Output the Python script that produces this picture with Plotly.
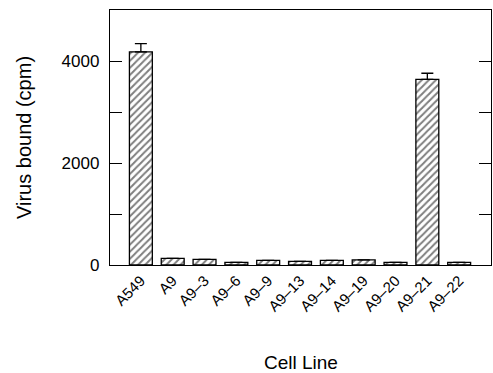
import plotly.graph_objects as go

cell_lines = ["A549", "A9", "A9-3", "A9-6", "A9-9", "A9-13", "A9-14", "A9-19", "A9-20", "A9-21", "A9-22"]
tick_labels = ["A549", "A9", "A9\u20133", "A9\u20136", "A9\u20139", "A9\u201313", "A9\u201314", "A9\u201319", "A9\u201320", "A9\u201321", "A9\u201322"]
virus_bound = [4180, 130, 110, 50, 90, 70, 90, 100, 50, 3640, 50]
errors = [160, 0, 0, 0, 0, 0, 0, 0, 0, 120, 0]
y_tickvals = [0, 1000, 2000, 3000, 4000]
y_ticktext = ["0", "", "2000", "", "4000"]

font = "Liberation Sans, Arial, sans-serif"

L, R, T, B = 110, 2, 10, 108
W, H = 493, 373
pw = W - L - R
ph = H - T - B

fig = go.Figure()
fig.add_trace(go.Bar(
    x=list(range(len(cell_lines))),
    y=virus_bound,
    width=0.72,
    marker=dict(color="white", line=dict(color="black", width=1.3),
                pattern=dict(shape="/", fgcolor="black", bgcolor="white", size=5, solidity=0.4)),
    error_y=dict(type="data", array=errors, arrayminus=[0] * len(errors), symmetric=False,
                 visible=True, color="black", thickness=1.3, width=6),
))

fig.update_layout(
    width=W, height=H,
    margin=dict(l=L, r=R, t=T, b=B, autoexpand=False),
    paper_bgcolor="white", plot_bgcolor="white",
    showlegend=False,
    font=dict(family=font, color="black", size=13),
    xaxis=dict(range=[-0.97, 11.0], tickvals=list(range(len(cell_lines))), ticktext=tick_labels,
               tickangle=-45, showline=True, linecolor="black", linewidth=1.3, mirror=True,
               ticks="", showgrid=False, zeroline=False, tickfont=dict(size=15), automargin=False),
    yaxis=dict(range=[0, 5000], tickvals=y_tickvals, ticktext=y_ticktext,
               showline=True, linecolor="black", linewidth=1.3, mirror="allticks",
               ticks="inside", ticklen=12, tickcolor="black", tickwidth=1.2,
               showgrid=False, zeroline=False, tickfont=dict(size=17), automargin=False,
               ticklabelstandoff=6),
    annotations=[
        dict(text="Virus bound (cpm)", x=(24 - L) / pw, y=(H - B - 138) / ph, xref="paper", yref="paper",
             showarrow=False, textangle=-90, font=dict(size=20), xanchor="center", yanchor="middle"),
        dict(text="Cell Line", x=(301 - L) / pw, y=(H - B - 362) / ph, xref="paper", yref="paper",
             showarrow=False, font=dict(size=19), xanchor="center", yanchor="middle"),
    ],
)
fig.write_html("out.html", config={"displayModeBar": False},
               post_script="document.body.style.margin='0';document.body.style.overflow='hidden';")
